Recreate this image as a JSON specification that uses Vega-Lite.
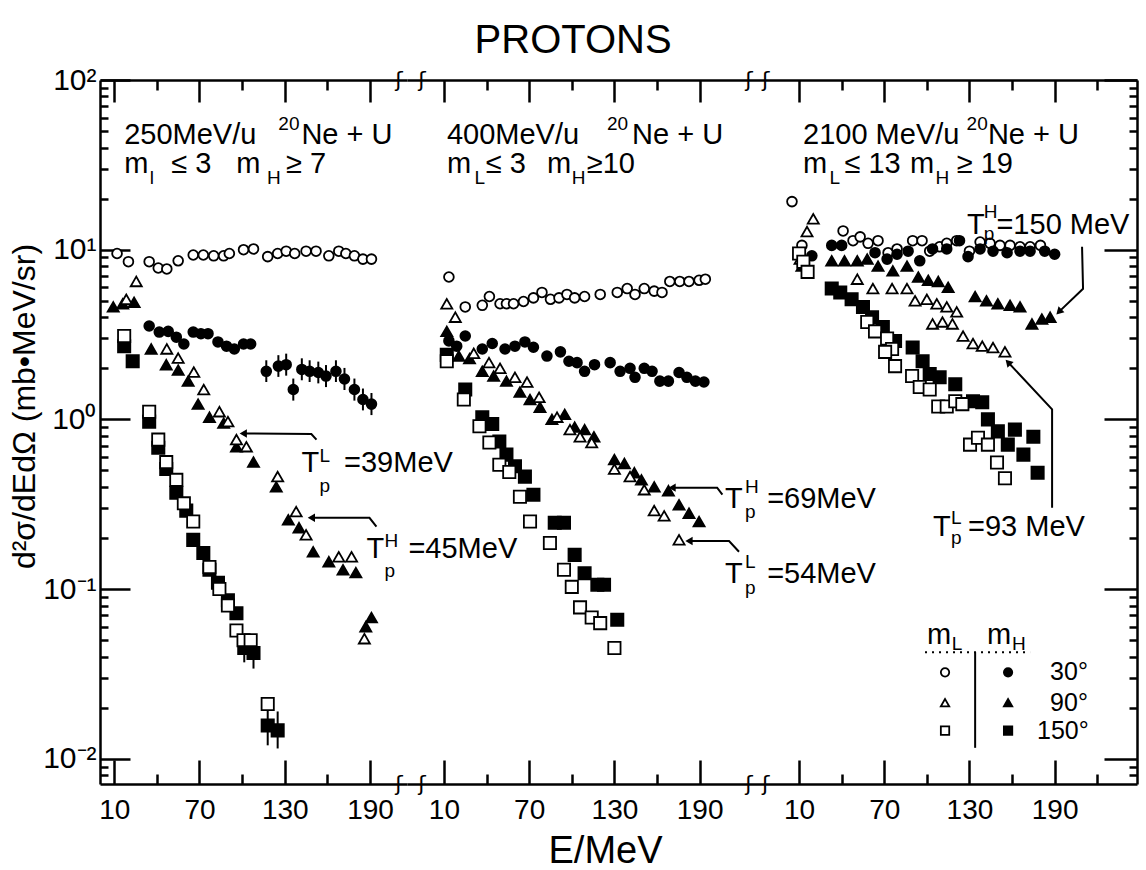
{
  "$schema": "https://vega.github.io/schema/vega-lite/v6.json",
  "padding": {"left": 8, "top": 21, "right": 4, "bottom": 2},
  "bounds": "flush",
  "spacing": 0,
  "title": {"text": "PROTONS", "fontSize": 40, "fontWeight": "normal", "font": "Liberation Sans", "color": "black", "offset": 4, "anchor": "middle"},
  "config": {
    "view": {"stroke": null},
    "axis": {"domainColor": "black", "tickColor": "black", "labelColor": "black", "titleColor": "black", "labelFont": "Liberation Sans", "titleFont": "Liberation Sans", "titleFontWeight": "normal", "grid": false, "labelFlush": false, "labelOverlap": false, "domainWidth": 2.5, "tickWidth": 2.5}
  },
  "datasets": {
    "pts": [
      {"p":1,"m":"mL","a":"30°","E":12,"v":9.5},{"p":1,"m":"mL","a":"30°","E":20,"v":8.5},{"p":1,"m":"mL","a":"30°","E":34.6,"v":8.5},{"p":1,"m":"mL","a":"30°","E":41,"v":7.8},{"p":1,"m":"mL","a":"30°","E":47,"v":7.7},{"p":1,"m":"mL","a":"30°","E":55,"v":8.6},{"p":1,"m":"mL","a":"30°","E":65.6,"v":9.3},{"p":1,"m":"mL","a":"30°","E":72.7,"v":9.3},{"p":1,"m":"mL","a":"30°","E":80,"v":9.2},{"p":1,"m":"mL","a":"30°","E":87,"v":9.2},{"p":1,"m":"mL","a":"30°","E":91,"v":9.5},{"p":1,"m":"mL","a":"30°","E":101,"v":10.0},{"p":1,"m":"mL","a":"30°","E":108,"v":10.1},{"p":1,"m":"mL","a":"30°","E":118,"v":9.1},{"p":1,"m":"mL","a":"30°","E":125,"v":9.5},{"p":1,"m":"mL","a":"30°","E":131,"v":9.8},{"p":1,"m":"mL","a":"30°","E":137,"v":9.5},{"p":1,"m":"mL","a":"30°","E":145,"v":9.8},{"p":1,"m":"mL","a":"30°","E":152,"v":9.8},{"p":1,"m":"mL","a":"30°","E":161,"v":9.2},{"p":1,"m":"mL","a":"30°","E":168,"v":9.8},{"p":1,"m":"mL","a":"30°","E":173,"v":9.5},{"p":1,"m":"mL","a":"30°","E":179,"v":9.2},{"p":1,"m":"mL","a":"30°","E":185,"v":8.8},{"p":1,"m":"mL","a":"30°","E":191,"v":8.8},
      {"p":1,"m":"mH","a":"30°","E":34.6,"v":3.55},{"p":1,"m":"mH","a":"30°","E":41.7,"v":3.27},{"p":1,"m":"mH","a":"30°","E":48,"v":3.3},{"p":1,"m":"mH","a":"30°","E":53.7,"v":3.05},{"p":1,"m":"mH","a":"30°","E":59,"v":2.78},{"p":1,"m":"mH","a":"30°","E":65.6,"v":3.27},{"p":1,"m":"mH","a":"30°","E":71,"v":3.2},{"p":1,"m":"mH","a":"30°","E":76,"v":3.2},{"p":1,"m":"mH","a":"30°","E":83,"v":2.86},{"p":1,"m":"mH","a":"30°","E":89,"v":2.7},{"p":1,"m":"mH","a":"30°","E":94.5,"v":2.6},{"p":1,"m":"mH","a":"30°","E":101,"v":2.78},{"p":1,"m":"mH","a":"30°","E":106,"v":2.78},{"p":1,"m":"mH","a":"30°","E":117,"v":1.92},{"p":1,"m":"mH","a":"30°","E":125.5,"v":2.06},{"p":1,"m":"mH","a":"30°","E":131,"v":2.1},{"p":1,"m":"mH","a":"30°","E":136,"v":1.5},{"p":1,"m":"mH","a":"30°","E":142,"v":1.97},{"p":1,"m":"mH","a":"30°","E":147.5,"v":1.92},{"p":1,"m":"mH","a":"30°","E":153.6,"v":1.89},{"p":1,"m":"mH","a":"30°","E":159,"v":1.8},{"p":1,"m":"mH","a":"30°","E":166,"v":1.92},{"p":1,"m":"mH","a":"30°","E":172,"v":1.73},{"p":1,"m":"mH","a":"30°","E":179,"v":1.5},{"p":1,"m":"mH","a":"30°","E":185,"v":1.31},{"p":1,"m":"mH","a":"30°","E":191,"v":1.23},
      {"p":1,"m":"mH","a":"90°","E":9.3,"v":4.6},{"p":1,"m":"mH","a":"90°","E":16,"v":4.8},{"p":1,"m":"mH","a":"90°","E":24,"v":4.9},{"p":1,"m":"mH","a":"90°","E":36,"v":2.6},{"p":1,"m":"mH","a":"90°","E":46.6,"v":2.1},{"p":1,"m":"mH","a":"90°","E":55,"v":1.95},{"p":1,"m":"mH","a":"90°","E":62,"v":1.68},{"p":1,"m":"mH","a":"90°","E":69,"v":1.23},{"p":1,"m":"mH","a":"90°","E":77,"v":1.03},{"p":1,"m":"mH","a":"90°","E":87,"v":0.95},{"p":1,"m":"mH","a":"90°","E":96,"v":0.69},{"p":1,"m":"mH","a":"90°","E":108,"v":0.56},{"p":1,"m":"mH","a":"90°","E":124,"v":0.4},{"p":1,"m":"mH","a":"90°","E":132.5,"v":0.256},{"p":1,"m":"mH","a":"90°","E":140,"v":0.23},{"p":1,"m":"mH","a":"90°","E":150,"v":0.166},{"p":1,"m":"mH","a":"90°","E":161,"v":0.145},{"p":1,"m":"mH","a":"90°","E":171,"v":0.13},{"p":1,"m":"mH","a":"90°","E":180,"v":0.125},{"p":1,"m":"mH","a":"90°","E":187,"v":0.06},{"p":1,"m":"mH","a":"90°","E":191,"v":0.068},
      {"p":1,"m":"mL","a":"90°","E":18.5,"v":5.1},{"p":1,"m":"mL","a":"90°","E":25.5,"v":6.5},{"p":1,"m":"mL","a":"90°","E":47,"v":2.6},{"p":1,"m":"mL","a":"90°","E":55,"v":2.3},{"p":1,"m":"mL","a":"90°","E":66,"v":1.9},{"p":1,"m":"mL","a":"90°","E":73,"v":1.5},{"p":1,"m":"mL","a":"90°","E":84,"v":1.11},{"p":1,"m":"mL","a":"90°","E":90,"v":0.97},{"p":1,"m":"mL","a":"90°","E":96,"v":0.76},{"p":1,"m":"mL","a":"90°","E":103,"v":0.69},{"p":1,"m":"mL","a":"90°","E":125,"v":0.46},{"p":1,"m":"mL","a":"90°","E":138,"v":0.286},{"p":1,"m":"mL","a":"90°","E":145,"v":0.209},{"p":1,"m":"mL","a":"90°","E":168,"v":0.155},{"p":1,"m":"mL","a":"90°","E":177,"v":0.155},{"p":1,"m":"mL","a":"90°","E":186,"v":0.051},
      {"p":1,"m":"mH","a":"150°","E":17,"v":2.7},{"p":1,"m":"mH","a":"150°","E":23,"v":2.2},{"p":1,"m":"mH","a":"150°","E":34.6,"v":0.97},{"p":1,"m":"mH","a":"150°","E":41,"v":0.68},{"p":1,"m":"mH","a":"150°","E":46.6,"v":0.51},{"p":1,"m":"mH","a":"150°","E":53.7,"v":0.37},{"p":1,"m":"mH","a":"150°","E":60.7,"v":0.29},{"p":1,"m":"mH","a":"150°","E":65.6,"v":0.195},{"p":1,"m":"mH","a":"150°","E":72.7,"v":0.163},{"p":1,"m":"mH","a":"150°","E":77,"v":0.13},{"p":1,"m":"mH","a":"150°","E":83,"v":0.109},{"p":1,"m":"mH","a":"150°","E":90,"v":0.086},{"p":1,"m":"mH","a":"150°","E":96,"v":0.072},{"p":1,"m":"mH","a":"150°","E":101.5,"v":0.045},{"p":1,"m":"mH","a":"150°","E":108,"v":0.042},{"p":1,"m":"mH","a":"150°","E":118,"v":0.0157},{"p":1,"m":"mH","a":"150°","E":125,"v":0.0147},
      {"p":1,"m":"mL","a":"150°","E":17,"v":3.1},{"p":1,"m":"mL","a":"150°","E":34.6,"v":1.11},{"p":1,"m":"mL","a":"150°","E":41,"v":0.76},{"p":1,"m":"mL","a":"150°","E":46.6,"v":0.56},{"p":1,"m":"mL","a":"150°","E":53.7,"v":0.44},{"p":1,"m":"mL","a":"150°","E":59,"v":0.32},{"p":1,"m":"mL","a":"150°","E":65.6,"v":0.25},{"p":1,"m":"mL","a":"150°","E":77,"v":0.135},{"p":1,"m":"mL","a":"150°","E":84,"v":0.1},{"p":1,"m":"mL","a":"150°","E":90,"v":0.08},{"p":1,"m":"mL","a":"150°","E":96,"v":0.057},{"p":1,"m":"mL","a":"150°","E":101,"v":0.05},{"p":1,"m":"mL","a":"150°","E":106,"v":0.05},{"p":1,"m":"mL","a":"150°","E":118,"v":0.021},
      {"p":2,"m":"mL","a":"30°","E":13.5,"v":6.9},{"p":2,"m":"mL","a":"30°","E":25,"v":4.6},{"p":2,"m":"mL","a":"30°","E":37,"v":4.7},{"p":2,"m":"mL","a":"30°","E":42,"v":5.3},{"p":2,"m":"mL","a":"30°","E":49.5,"v":4.8},{"p":2,"m":"mL","a":"30°","E":54,"v":4.8},{"p":2,"m":"mL","a":"30°","E":59,"v":4.8},{"p":2,"m":"mL","a":"30°","E":66,"v":4.95},{"p":2,"m":"mL","a":"30°","E":73,"v":5.2},{"p":2,"m":"mL","a":"30°","E":79,"v":5.6},{"p":2,"m":"mL","a":"30°","E":85,"v":5.1},{"p":2,"m":"mL","a":"30°","E":91,"v":5.2},{"p":2,"m":"mL","a":"30°","E":96.6,"v":5.45},{"p":2,"m":"mL","a":"30°","E":102,"v":5.2},{"p":2,"m":"mL","a":"30°","E":109,"v":5.3},{"p":2,"m":"mL","a":"30°","E":120,"v":5.45},{"p":2,"m":"mL","a":"30°","E":132,"v":5.6},{"p":2,"m":"mL","a":"30°","E":139,"v":5.9},{"p":2,"m":"mL","a":"30°","E":144.5,"v":5.45},{"p":2,"m":"mL","a":"30°","E":151,"v":5.9},{"p":2,"m":"mL","a":"30°","E":158,"v":5.7},{"p":2,"m":"mL","a":"30°","E":163.5,"v":5.6},{"p":2,"m":"mL","a":"30°","E":169,"v":6.5},{"p":2,"m":"mL","a":"30°","E":176,"v":6.5},{"p":2,"m":"mL","a":"30°","E":182.5,"v":6.5},{"p":2,"m":"mL","a":"30°","E":189.6,"v":6.6},{"p":2,"m":"mL","a":"30°","E":194,"v":6.7},
      {"p":2,"m":"mH","a":"30°","E":13.5,"v":2.9},{"p":2,"m":"mH","a":"30°","E":19,"v":2.7},{"p":2,"m":"mH","a":"30°","E":25,"v":3.1},{"p":2,"m":"mH","a":"30°","E":37,"v":2.6},{"p":2,"m":"mH","a":"30°","E":44,"v":2.8},{"p":2,"m":"mH","a":"30°","E":53,"v":2.6},{"p":2,"m":"mH","a":"30°","E":60,"v":2.7},{"p":2,"m":"mH","a":"30°","E":67,"v":2.86},{"p":2,"m":"mH","a":"30°","E":73,"v":2.66},{"p":2,"m":"mH","a":"30°","E":82.5,"v":2.36},{"p":2,"m":"mH","a":"30°","E":92,"v":2.5},{"p":2,"m":"mH","a":"30°","E":98,"v":2.2},{"p":2,"m":"mH","a":"30°","E":103.7,"v":2.16},{"p":2,"m":"mH","a":"30°","E":109,"v":1.92},{"p":2,"m":"mH","a":"30°","E":116,"v":2.1},{"p":2,"m":"mH","a":"30°","E":127,"v":2.16},{"p":2,"m":"mH","a":"30°","E":134,"v":1.92},{"p":2,"m":"mH","a":"30°","E":141,"v":2.0},{"p":2,"m":"mH","a":"30°","E":144.5,"v":1.77},{"p":2,"m":"mH","a":"30°","E":151,"v":2.0},{"p":2,"m":"mH","a":"30°","E":156.5,"v":1.92},{"p":2,"m":"mH","a":"30°","E":162,"v":1.68},{"p":2,"m":"mH","a":"30°","E":168,"v":1.68},{"p":2,"m":"mH","a":"30°","E":175.5,"v":1.89},{"p":2,"m":"mH","a":"30°","E":181,"v":1.77},{"p":2,"m":"mH","a":"30°","E":187,"v":1.68},{"p":2,"m":"mH","a":"30°","E":193,"v":1.66},
      {"p":2,"m":"mH","a":"90°","E":12,"v":3.3},{"p":2,"m":"mH","a":"90°","E":20.5,"v":2.36},{"p":2,"m":"mH","a":"90°","E":28,"v":2.28},{"p":2,"m":"mH","a":"90°","E":37,"v":1.92},{"p":2,"m":"mH","a":"90°","E":45,"v":1.8},{"p":2,"m":"mH","a":"90°","E":54,"v":1.68},{"p":2,"m":"mH","a":"90°","E":63.5,"v":1.45},{"p":2,"m":"mH","a":"90°","E":70.6,"v":1.31},{"p":2,"m":"mH","a":"90°","E":77.6,"v":1.18},{"p":2,"m":"mH","a":"90°","E":86,"v":1.0},{"p":2,"m":"mH","a":"90°","E":95,"v":1.07},{"p":2,"m":"mH","a":"90°","E":102,"v":0.9},{"p":2,"m":"mH","a":"90°","E":109,"v":0.87},{"p":2,"m":"mH","a":"90°","E":115.6,"v":0.79},{"p":2,"m":"mH","a":"90°","E":130,"v":0.58},{"p":2,"m":"mH","a":"90°","E":137,"v":0.55},{"p":2,"m":"mH","a":"90°","E":144,"v":0.485},{"p":2,"m":"mH","a":"90°","E":149,"v":0.44},{"p":2,"m":"mH","a":"90°","E":158,"v":0.4},{"p":2,"m":"mH","a":"90°","E":168,"v":0.38},{"p":2,"m":"mH","a":"90°","E":175.5,"v":0.314},{"p":2,"m":"mH","a":"90°","E":182.5,"v":0.28},{"p":2,"m":"mH","a":"90°","E":189.6,"v":0.25},
      {"p":2,"m":"mL","a":"90°","E":12,"v":4.8},{"p":2,"m":"mL","a":"90°","E":18,"v":4.0},{"p":2,"m":"mL","a":"90°","E":31,"v":2.45},{"p":2,"m":"mL","a":"90°","E":41.7,"v":2.16},{"p":2,"m":"mL","a":"90°","E":49.5,"v":2.0},{"p":2,"m":"mL","a":"90°","E":60,"v":1.77},{"p":2,"m":"mL","a":"90°","E":68.5,"v":1.66},{"p":2,"m":"mL","a":"90°","E":77,"v":1.35},{"p":2,"m":"mL","a":"90°","E":89.6,"v":1.03},{"p":2,"m":"mL","a":"90°","E":98.7,"v":0.87},{"p":2,"m":"mL","a":"90°","E":105.8,"v":0.79},{"p":2,"m":"mL","a":"90°","E":114,"v":0.73},{"p":2,"m":"mL","a":"90°","E":130,"v":0.51},{"p":2,"m":"mL","a":"90°","E":141,"v":0.46},{"p":2,"m":"mL","a":"90°","E":151,"v":0.385},{"p":2,"m":"mL","a":"90°","E":158,"v":0.29},{"p":2,"m":"mL","a":"90°","E":165,"v":0.27},{"p":2,"m":"mL","a":"90°","E":175.5,"v":0.195},
      {"p":2,"m":"mH","a":"150°","E":12,"v":2.4},{"p":2,"m":"mH","a":"150°","E":25,"v":1.5},{"p":2,"m":"mH","a":"150°","E":37,"v":1.03},{"p":2,"m":"mH","a":"150°","E":44,"v":0.94},{"p":2,"m":"mH","a":"150°","E":49,"v":0.74},{"p":2,"m":"mH","a":"150°","E":54,"v":0.62},{"p":2,"m":"mH","a":"150°","E":60,"v":0.53},{"p":2,"m":"mH","a":"150°","E":67,"v":0.46},{"p":2,"m":"mH","a":"150°","E":73,"v":0.36},{"p":2,"m":"mH","a":"150°","E":88,"v":0.246},{"p":2,"m":"mH","a":"150°","E":94.5,"v":0.246},{"p":2,"m":"mH","a":"150°","E":102,"v":0.159},{"p":2,"m":"mH","a":"150°","E":109,"v":0.124},{"p":2,"m":"mH","a":"150°","E":118,"v":0.106},{"p":2,"m":"mH","a":"150°","E":122.7,"v":0.106},{"p":2,"m":"mH","a":"150°","E":132,"v":0.066},
      {"p":2,"m":"mL","a":"150°","E":12,"v":2.2},{"p":2,"m":"mL","a":"150°","E":24,"v":1.31},{"p":2,"m":"mL","a":"150°","E":35,"v":0.91},{"p":2,"m":"mL","a":"150°","E":42,"v":0.73},{"p":2,"m":"mL","a":"150°","E":49,"v":0.54},{"p":2,"m":"mL","a":"150°","E":56,"v":0.49},{"p":2,"m":"mL","a":"150°","E":63.5,"v":0.35},{"p":2,"m":"mL","a":"150°","E":70.6,"v":0.25},{"p":2,"m":"mL","a":"150°","E":84.6,"v":0.187},{"p":2,"m":"mL","a":"150°","E":94.5,"v":0.13},{"p":2,"m":"mL","a":"150°","E":100,"v":0.103},{"p":2,"m":"mL","a":"150°","E":105.8,"v":0.078},{"p":2,"m":"mL","a":"150°","E":114,"v":0.068},{"p":2,"m":"mL","a":"150°","E":120,"v":0.063},{"p":2,"m":"mL","a":"150°","E":130,"v":0.045},
      {"p":3,"m":"mL","a":"30°","E":5,"v":19.2},{"p":3,"m":"mL","a":"30°","E":12,"v":10.6},{"p":3,"m":"mL","a":"30°","E":41,"v":12.9},{"p":3,"m":"mL","a":"30°","E":48,"v":11.3},{"p":3,"m":"mL","a":"30°","E":53,"v":11.9},{"p":3,"m":"mL","a":"30°","E":58.6,"v":10.9},{"p":3,"m":"mL","a":"30°","E":65.6,"v":11.3},{"p":3,"m":"mL","a":"30°","E":72.7,"v":9.6},{"p":3,"m":"mL","a":"30°","E":79,"v":10.1},{"p":3,"m":"mL","a":"30°","E":90,"v":11.3},{"p":3,"m":"mL","a":"30°","E":96.6,"v":11.3},{"p":3,"m":"mL","a":"30°","E":102,"v":9.8},{"p":3,"m":"mL","a":"30°","E":109,"v":10.4},{"p":3,"m":"mL","a":"30°","E":114,"v":10.9},{"p":3,"m":"mL","a":"30°","E":121,"v":11.3},{"p":3,"m":"mL","a":"30°","E":130,"v":9.8},{"p":3,"m":"mL","a":"30°","E":137.5,"v":11.1},{"p":3,"m":"mL","a":"30°","E":144.5,"v":10.9},{"p":3,"m":"mL","a":"30°","E":151.5,"v":10.6},{"p":3,"m":"mL","a":"30°","E":158.6,"v":10.6},{"p":3,"m":"mL","a":"30°","E":165.6,"v":10.4},{"p":3,"m":"mL","a":"30°","E":172.7,"v":10.4},{"p":3,"m":"mL","a":"30°","E":180,"v":10.6},
      {"p":3,"m":"mH","a":"30°","E":19,"v":9.2},{"p":3,"m":"mH","a":"30°","E":33,"v":10.6},{"p":3,"m":"mH","a":"30°","E":40,"v":10.6},{"p":3,"m":"mH","a":"30°","E":63.5,"v":9.6},{"p":3,"m":"mH","a":"30°","E":72,"v":8.8},{"p":3,"m":"mH","a":"30°","E":79,"v":9.4},{"p":3,"m":"mH","a":"30°","E":86.8,"v":9.8},{"p":3,"m":"mH","a":"30°","E":95,"v":8.6},{"p":3,"m":"mH","a":"30°","E":104,"v":10.1},{"p":3,"m":"mH","a":"30°","E":114,"v":10.1},{"p":3,"m":"mH","a":"30°","E":123,"v":11.3},{"p":3,"m":"mH","a":"30°","E":129,"v":9.1},{"p":3,"m":"mH","a":"30°","E":137.5,"v":10.1},{"p":3,"m":"mH","a":"30°","E":146.6,"v":9.8},{"p":3,"m":"mH","a":"30°","E":156.5,"v":9.6},{"p":3,"m":"mH","a":"30°","E":165.6,"v":9.8},{"p":3,"m":"mH","a":"30°","E":172.7,"v":9.8},{"p":3,"m":"mH","a":"30°","E":183,"v":9.8},{"p":3,"m":"mH","a":"30°","E":190,"v":9.4},
      {"p":3,"m":"mH","a":"90°","E":12,"v":8.0},{"p":3,"m":"mH","a":"90°","E":33,"v":8.6},{"p":3,"m":"mH","a":"90°","E":42,"v":8.6},{"p":3,"m":"mH","a":"90°","E":51,"v":8.6},{"p":3,"m":"mH","a":"90°","E":58,"v":8.8},{"p":3,"m":"mH","a":"90°","E":65.6,"v":8.0},{"p":3,"m":"mH","a":"90°","E":76,"v":7.5},{"p":3,"m":"mH","a":"90°","E":86,"v":8.0},{"p":3,"m":"mH","a":"90°","E":94,"v":6.9},{"p":3,"m":"mH","a":"90°","E":101,"v":6.6},{"p":3,"m":"mH","a":"90°","E":108,"v":6.5},{"p":3,"m":"mH","a":"90°","E":115,"v":6.0},{"p":3,"m":"mH","a":"90°","E":134,"v":5.3},{"p":3,"m":"mH","a":"90°","E":142,"v":5.0},{"p":3,"m":"mH","a":"90°","E":150,"v":4.8},{"p":3,"m":"mH","a":"90°","E":158.6,"v":4.7},{"p":3,"m":"mH","a":"90°","E":165.6,"v":4.6},{"p":3,"m":"mH","a":"90°","E":174,"v":3.65},{"p":3,"m":"mH","a":"90°","E":181,"v":3.9},{"p":3,"m":"mH","a":"90°","E":186.8,"v":4.0},
      {"p":3,"m":"mL","a":"90°","E":10.7,"v":8.8},{"p":3,"m":"mL","a":"90°","E":15.6,"v":12.8},{"p":3,"m":"mL","a":"90°","E":20,"v":15.2},{"p":3,"m":"mL","a":"90°","E":51,"v":6.7},{"p":3,"m":"mL","a":"90°","E":62,"v":5.9},{"p":3,"m":"mL","a":"90°","E":75.5,"v":5.9},{"p":3,"m":"mL","a":"90°","E":86,"v":5.9},{"p":3,"m":"mL","a":"90°","E":91.7,"v":5.0},{"p":3,"m":"mL","a":"90°","E":100,"v":5.1},{"p":3,"m":"mL","a":"90°","E":107,"v":4.8},{"p":3,"m":"mL","a":"90°","E":114,"v":4.6},{"p":3,"m":"mL","a":"90°","E":121,"v":4.3},{"p":3,"m":"mL","a":"90°","E":104,"v":3.65},{"p":3,"m":"mL","a":"90°","E":111,"v":3.75},{"p":3,"m":"mL","a":"90°","E":118,"v":3.65},{"p":3,"m":"mL","a":"90°","E":125.5,"v":3.1},{"p":3,"m":"mL","a":"90°","E":132.5,"v":2.8},{"p":3,"m":"mL","a":"90°","E":139,"v":2.7},{"p":3,"m":"mL","a":"90°","E":146.6,"v":2.65},{"p":3,"m":"mL","a":"90°","E":155,"v":2.5},
      {"p":3,"m":"mH","a":"150°","E":33,"v":5.9},{"p":3,"m":"mH","a":"150°","E":39,"v":5.6},{"p":3,"m":"mH","a":"150°","E":47,"v":5.1},{"p":3,"m":"mH","a":"150°","E":55,"v":4.6},{"p":3,"m":"mH","a":"150°","E":61.4,"v":4.0},{"p":3,"m":"mH","a":"150°","E":69,"v":3.5},{"p":3,"m":"mH","a":"150°","E":77.6,"v":2.9},{"p":3,"m":"mH","a":"150°","E":90,"v":2.65},{"p":3,"m":"mH","a":"150°","E":97,"v":2.2},{"p":3,"m":"mH","a":"150°","E":102,"v":1.85},{"p":3,"m":"mH","a":"150°","E":109,"v":1.77},{"p":3,"m":"mH","a":"150°","E":120,"v":1.61},{"p":3,"m":"mH","a":"150°","E":132.5,"v":1.28},{"p":3,"m":"mH","a":"150°","E":139,"v":1.26},{"p":3,"m":"mH","a":"150°","E":143,"v":1.0},{"p":3,"m":"mH","a":"150°","E":150,"v":0.85},{"p":3,"m":"mH","a":"150°","E":157,"v":0.71},{"p":3,"m":"mH","a":"150°","E":162,"v":0.87},{"p":3,"m":"mH","a":"150°","E":168,"v":0.62},{"p":3,"m":"mH","a":"150°","E":175,"v":0.79},{"p":3,"m":"mH","a":"150°","E":178,"v":0.485},
      {"p":3,"m":"mL","a":"150°","E":10,"v":9.5},{"p":3,"m":"mL","a":"150°","E":13,"v":8.5},{"p":3,"m":"mL","a":"150°","E":16,"v":7.4},{"p":3,"m":"mL","a":"150°","E":58,"v":3.75},{"p":3,"m":"mL","a":"150°","E":63.5,"v":3.3},{"p":3,"m":"mL","a":"150°","E":72,"v":3.0},{"p":3,"m":"mL","a":"150°","E":75.5,"v":2.6},{"p":3,"m":"mL","a":"150°","E":70.6,"v":2.5},{"p":3,"m":"mL","a":"150°","E":77.6,"v":2.06},{"p":3,"m":"mL","a":"150°","E":89.6,"v":1.8},{"p":3,"m":"mL","a":"150°","E":95,"v":1.55},{"p":3,"m":"mL","a":"150°","E":102,"v":1.5},{"p":3,"m":"mL","a":"150°","E":108,"v":1.19},{"p":3,"m":"mL","a":"150°","E":114,"v":1.19},{"p":3,"m":"mL","a":"150°","E":120,"v":1.28},{"p":3,"m":"mL","a":"150°","E":125,"v":1.23},{"p":3,"m":"mL","a":"150°","E":130.4,"v":0.71},{"p":3,"m":"mL","a":"150°","E":136,"v":0.78},{"p":3,"m":"mL","a":"150°","E":143,"v":0.71},{"p":3,"m":"mL","a":"150°","E":149.4,"v":0.557},{"p":3,"m":"mL","a":"150°","E":155,"v":0.45}
    ],
    "leg": [
      {"p":3,"m":"mL","a":"30°","E":112.8,"v":0.0323},{"p":3,"m":"mH","a":"30°","E":157.2,"v":0.0323},
      {"p":3,"m":"mL","a":"90°","E":112.8,"v":0.0214},{"p":3,"m":"mH","a":"90°","E":157.2,"v":0.0214},
      {"p":3,"m":"mL","a":"150°","E":112.8,"v":0.01465},{"p":3,"m":"mH","a":"150°","E":157.2,"v":0.01465}
    ],
    "err": [
      {"E":117,"lo":1.66,"hi":2.23},{"E":125.5,"lo":1.78,"hi":2.39},{"E":131,"lo":1.81,"hi":2.44},{"E":136,"lo":1.29,"hi":1.74},{"E":142,"lo":1.7,"hi":2.29},{"E":147.5,"lo":1.66,"hi":2.23},{"E":153.6,"lo":1.63,"hi":2.19},{"E":159,"lo":1.55,"hi":2.09},{"E":166,"lo":1.66,"hi":2.23},{"E":172,"lo":1.49,"hi":2.01},{"E":179,"lo":1.29,"hi":1.74},{"E":185,"lo":1.13,"hi":1.52},{"E":191,"lo":1.06,"hi":1.43},
      {"E":118,"lo":0.012,"hi":0.02},{"E":125,"lo":0.0115,"hi":0.019},{"E":101.5,"lo":0.037,"hi":0.053},{"E":108,"lo":0.034,"hi":0.051}
    ],
    "txt": [
      {"p":1,"k":"big","t":"250MeV/u","E":17,"v":47.3},{"p":1,"k":"sup","t":"20","E":125.5,"v":55},{"p":1,"k":"big","t":"Ne + U","E":141.7,"v":47.3},
      {"p":1,"k":"big","t":"m","E":17,"v":31.8},{"p":1,"k":"sub","t":"l","E":35,"v":26.3},{"p":1,"k":"big","t":"≤ 3","E":50.1,"v":31.8},{"p":1,"k":"big","t":"m","E":95.9,"v":31.8},{"p":1,"k":"sub","t":"H","E":117.5,"v":26.3},{"p":1,"k":"big","t":"≥ 7","E":130.8,"v":31.8},
      {"p":1,"k":"big","t":"T","E":141.7,"v":0.55},{"p":1,"k":"sup","t":"L","E":154.4,"v":0.612},{"p":1,"k":"sub","t":"p","E":154.4,"v":0.406},{"p":1,"k":"big","t":"=39MeV","E":171.7,"v":0.55},
      {"p":1,"k":"big","t":"T","E":187.5,"v":0.1725},{"p":1,"k":"sup","t":"H","E":200.1,"v":0.192},{"p":1,"k":"sub","t":"p","E":200.1,"v":0.128},{"p":1,"k":"big","t":"=45MeV","E":217,"v":0.1725},
      {"p":2,"k":"big","t":"400MeV/u","E":12.1,"v":47.3},{"p":2,"k":"sup","t":"20","E":124.8,"v":55},{"p":2,"k":"big","t":"Ne + U","E":142.4,"v":47.3},
      {"p":2,"k":"big","t":"m","E":12.1,"v":31.8},{"p":2,"k":"sub","t":"L","E":31.5,"v":26.3},{"p":2,"k":"big","t":"≤ 3","E":39.5,"v":31.8},{"p":2,"k":"big","t":"m","E":82.5,"v":31.8},{"p":2,"k":"sub","t":"H","E":100,"v":26.3},{"p":2,"k":"big","t":"≥10","E":110.5,"v":31.8},
      {"p":2,"k":"big","t":"T","E":207.9,"v":0.341},{"p":2,"k":"sup","t":"H","E":222,"v":0.402},{"p":2,"k":"sub","t":"p","E":222,"v":0.286},{"p":2,"k":"big","t":"=69MeV","E":237.5,"v":0.341},
      {"p":2,"k":"big","t":"T","E":207.9,"v":0.123},{"p":2,"k":"sup","t":"L","E":222,"v":0.1445},{"p":2,"k":"sub","t":"p","E":222,"v":0.1014},{"p":2,"k":"big","t":"=54MeV","E":237.5,"v":0.123},
      {"p":3,"k":"big","t":"2100 MeV/u","E":12.8,"v":47.3},{"p":3,"k":"sup","t":"20","E":128,"v":55},{"p":3,"k":"big","t":"Ne + U","E":143,"v":47.3},
      {"p":3,"k":"big","t":"m","E":12.8,"v":31.8},{"p":3,"k":"sub","t":"L","E":31.5,"v":26.3},{"p":3,"k":"big","t":"≤ 13","E":42,"v":31.8},{"p":3,"k":"big","t":"m","E":88.2,"v":31.8},{"p":3,"k":"sub","t":"H","E":106,"v":26.3},{"p":3,"k":"big","t":"≥ 19","E":121,"v":31.8},
      {"p":3,"k":"big","t":"T","E":128.3,"v":13.9},{"p":3,"k":"sup","t":"H","E":140,"v":16.6},{"p":3,"k":"sub","t":"p","E":140,"v":12.3},{"p":3,"k":"big","t":"=150 MeV","E":149,"v":13.9},
      {"p":3,"k":"big","t":"T","E":104.4,"v":0.233},{"p":3,"k":"sup","t":"L","E":117,"v":0.263},{"p":3,"k":"sub","t":"p","E":117,"v":0.2},{"p":3,"k":"big","t":"=93 MeV","E":129,"v":0.233},
      {"p":3,"k":"big","t":"m","E":100.1,"v":0.0535},{"p":3,"k":"sub","t":"L","E":117.5,"v":0.0473},{"p":3,"k":"big","t":"m","E":142.4,"v":0.0535},{"p":3,"k":"sub","t":"H","E":160,"v":0.0473},
      {"p":3,"k":"leg","t":"30°","E":186.8,"v":0.0323},{"p":3,"k":"leg","t":"90°","E":186.8,"v":0.0214},{"p":3,"k":"leg","t":"150°","E":177.6,"v":0.01465},
      {"p":1,"k":"brk","t":"ʃ","E":210.4,"v":100},{"p":1,"k":"brk","t":"ʃ","E":210.4,"v":0.0071},
      {"p":2,"k":"brk","t":"ʃ","E":-5.4,"v":100},{"p":2,"k":"brk","t":"ʃ","E":-5.4,"v":0.0071},{"p":2,"k":"brk","t":"ʃ","E":224.7,"v":100},{"p":2,"k":"brk","t":"ʃ","E":224.7,"v":0.0071},
      {"p":3,"k":"brk","t":"ʃ","E":-13.5,"v":100},{"p":3,"k":"brk","t":"ʃ","E":-13.5,"v":0.0071}
    ],
    "lines": [
      {"p":1,"id":"a1","o":1,"E":100.8,"v":0.826},{"p":1,"id":"a1","o":2,"E":148.7,"v":0.82},{"p":1,"id":"a1","o":3,"E":152.3,"v":0.76},
      {"p":1,"id":"a2","o":1,"E":148.7,"v":0.263},{"p":1,"id":"a2","o":2,"E":189.6,"v":0.263},{"p":1,"id":"a2","o":3,"E":194.5,"v":0.233},
      {"p":2,"id":"a3","o":1,"E":170.6,"v":0.396},{"p":2,"id":"a3","o":2,"E":202.3,"v":0.396},{"p":2,"id":"a3","o":3,"E":206,"v":0.36},
      {"p":2,"id":"a4","o":1,"E":182.5,"v":0.192},{"p":2,"id":"a4","o":2,"E":210.7,"v":0.192},{"p":2,"id":"a4","o":3,"E":217.7,"v":0.166},
      {"p":3,"id":"a5","o":1,"E":209.3,"v":10.4},{"p":3,"id":"a5","o":2,"E":210,"v":5.88},{"p":3,"id":"a5","o":3,"E":193,"v":4.3},
      {"p":3,"id":"a6","o":1,"E":188.2,"v":0.301},{"p":3,"id":"a6","o":2,"E":188.2,"v":1.146},{"p":3,"id":"a6","o":3,"E":157.2,"v":2.17},
      {"p":3,"id":"lv","o":1,"E":134,"v":0.0424},{"p":3,"id":"lv","o":2,"E":134,"v":0.0116}
    ],
    "dots": [
      {"p":3,"id":"lh","o":1,"E":98.7,"v":0.0424},{"p":3,"id":"lh","o":2,"E":172.7,"v":0.0424}
    ],
    "heads": [
      {"p":1,"g":"L","E":100.8,"v":0.826},{"p":1,"g":"L","E":148.7,"v":0.263},{"p":2,"g":"L","E":170.6,"v":0.396},{"p":2,"g":"L","E":182.5,"v":0.192},{"p":3,"g":"DL","E":193,"v":4.3},{"p":3,"g":"UL","E":157.2,"v":2.17}
    ]
  },
  "hconcat": [
    {
      "width": 307, "height": 704,
      "resolve": {"axis": {"x": "independent", "y": "independent"}},
      "layer": [
        {
          "data": {"name": "err"},
          "mark": {"type": "rule", "color": "black", "strokeWidth": 2},
          "encoding": {
            "x": {"field": "E", "type": "quantitative", "scale": {"domain": [0, 216], "nice": false, "zero": false}, "axis": null},
            "y": {"field": "lo", "type": "quantitative", "scale": {"type": "log", "domain": [0.0071, 100], "nice": false}, "axis": null},
            "y2": {"field": "hi"}
          }
        },
        {
          "data": {"name": "pts"},
          "transform": [{"filter": "datum.p == 1"}],
          "mark": {"type": "point", "filled": true, "stroke": "black", "strokeWidth": 1.8, "opacity": 1},
          "encoding": {
            "x": {"field": "E", "type": "quantitative", "scale": {"domain": [0, 216], "nice": false, "zero": false},
              "axis": {"orient": "bottom", "values": [10, 40, 70, 100, 130, 160, 190], "labelExpr": "(datum.value - 10) % 60 == 0 ? datum.label : ''", "tickSize": {"condition": {"test": "(datum.value - 10) % 60 == 0", "value": -24}, "value": -10}, "labelFontSize": 28, "labelPadding": 36, "title": null}},
            "y": {"field": "v", "type": "quantitative", "scale": {"type": "log", "domain": [0.0071, 100], "nice": false},
              "axis": {"orient": "left", "values": [0.008,0.009,0.01,0.02,0.03,0.04,0.05,0.06,0.07,0.08,0.09,0.1,0.2,0.3,0.4,0.5,0.6,0.7,0.8,0.9,1,2,3,4,5,6,7,8,9,10,20,30,40,50,60,70,80,90,100],
                "labelExpr": "datum.value == 100 ? '10²' : datum.value == 10 ? '10¹' : datum.value == 1 ? '10⁰' : datum.value == 0.1 ? '10⁻¹' : datum.value == 0.01 ? '10⁻²' : ''",
                "tickSize": {"condition": {"test": "datum.value == 0.01 || datum.value == 0.1 || datum.value == 1 || datum.value == 10 || datum.value == 100", "value": -30}, "value": -8},
                "labelFontSize": 30, "labelPadding": 34, "title": "d²σ/dEdΩ (mb•MeV/sr)", "titleFontSize": 32, "titleX": -59, "titleY": 326}},
            "shape": {"field": "a", "type": "nominal", "scale": {"domain": ["30°", "90°", "150°"], "range": ["circle", "triangle-up", "square"]}, "legend": null},
            "fill": {"field": "m", "type": "nominal", "scale": {"domain": ["mL", "mH"], "range": ["white", "black"]}, "legend": null},
            "size": {"field": "a", "type": "nominal", "scale": {"domain": ["30°", "90°", "150°"], "range": [95, 150, 95]}, "legend": null}
          }
        },
        {
          "data": {"name": "txt"},
          "transform": [{"filter": "datum.p == 1 && datum.k == 'big'"}],
          "mark": {"type": "text", "align": "left", "baseline": "middle", "font": "Liberation Sans", "fontSize": 29, "color": "black"},
          "encoding": {
            "x": {"field": "E", "type": "quantitative", "scale": {"domain": [0, 216], "nice": false, "zero": false},
              "axis": {"orient": "top", "values": [10, 40, 70, 100, 130, 160, 190], "labels": false, "tickSize": {"condition": {"test": "(datum.value - 10) % 60 == 0", "value": -22}, "value": -10}, "title": null}},
            "y": {"field": "v", "type": "quantitative", "scale": {"type": "log", "domain": [0.0071, 100], "nice": false}, "axis": null},
            "text": {"field": "t"}
          }
        },
        {
          "data": {"name": "txt"},
          "transform": [{"filter": "datum.p == 1 && (datum.k == 'sub' || datum.k == 'sup')"}],
          "mark": {"type": "text", "align": "left", "baseline": "middle", "font": "Liberation Sans", "fontSize": 19, "color": "black"},
          "encoding": {
            "x": {"field": "E", "type": "quantitative", "scale": {"domain": [0, 216], "nice": false, "zero": false}, "axis": null},
            "y": {"field": "v", "type": "quantitative", "scale": {"type": "log", "domain": [0.0071, 100], "nice": false}, "axis": null},
            "text": {"field": "t"}
          }
        },
        {
          "data": {"name": "txt"},
          "transform": [{"filter": "datum.p == 1 && datum.k == 'brk'"}],
          "mark": {"type": "text", "align": "center", "baseline": "middle", "font": "DejaVu Sans", "fontSize": 22, "color": "black"},
          "encoding": {
            "x": {"field": "E", "type": "quantitative", "scale": {"domain": [0, 216], "nice": false, "zero": false}, "axis": null},
            "y": {"field": "v", "type": "quantitative", "scale": {"type": "log", "domain": [0.0071, 100], "nice": false}, "axis": null},
            "text": {"field": "t"}
          }
        },
        {
          "data": {"name": "lines"},
          "transform": [{"filter": "datum.p == 1"}],
          "mark": {"type": "line", "color": "black", "strokeWidth": 2},
          "encoding": {
            "x": {"field": "E", "type": "quantitative", "scale": {"domain": [0, 216], "nice": false, "zero": false}, "axis": null},
            "y": {"field": "v", "type": "quantitative", "scale": {"type": "log", "domain": [0.0071, 100], "nice": false}, "axis": null},
            "detail": {"field": "id"},
            "order": {"field": "o"}
          }
        },
        {
          "data": {"name": "heads"},
          "transform": [{"filter": "datum.p == 1"}],
          "mark": {"type": "point", "shape": "triangle-left", "filled": true, "color": "black", "opacity": 1, "size": 70},
          "encoding": {
            "x": {"field": "E", "type": "quantitative", "scale": {"domain": [0, 216], "nice": false, "zero": false}, "axis": null},
            "y": {"field": "v", "type": "quantitative", "scale": {"type": "log", "domain": [0.0071, 100], "nice": false}, "axis": null}
          }
        }
      ]
    },
    {
      "width": 358, "height": 704,
      "resolve": {"axis": {"x": "independent", "y": "independent"}},
      "layer": [
        {
          "data": {"name": "pts"},
          "transform": [{"filter": "datum.p == 2"}],
          "mark": {"type": "point", "filled": true, "stroke": "black", "strokeWidth": 1.8, "opacity": 1},
          "encoding": {
            "x": {"field": "E", "type": "quantitative", "scale": {"domain": [-16, 236], "nice": false, "zero": false},
              "axis": {"orient": "bottom", "values": [10, 40, 70, 100, 130, 160, 190], "labelExpr": "(datum.value - 10) % 60 == 0 ? datum.label : ''", "tickSize": {"condition": {"test": "(datum.value - 10) % 60 == 0", "value": -24}, "value": -10}, "labelFontSize": 28, "labelPadding": 36, "title": "E/MeV", "titleFontSize": 38, "titlePadding": -6, "titleX": 198}},
            "y": {"field": "v", "type": "quantitative", "scale": {"type": "log", "domain": [0.0071, 100], "nice": false}, "axis": null},
            "shape": {"field": "a", "type": "nominal", "scale": {"domain": ["30°", "90°", "150°"], "range": ["circle", "triangle-up", "square"]}, "legend": null},
            "fill": {"field": "m", "type": "nominal", "scale": {"domain": ["mL", "mH"], "range": ["white", "black"]}, "legend": null},
            "size": {"field": "a", "type": "nominal", "scale": {"domain": ["30°", "90°", "150°"], "range": [95, 150, 95]}, "legend": null}
          }
        },
        {
          "data": {"name": "txt"},
          "transform": [{"filter": "datum.p == 2 && datum.k == 'big'"}],
          "mark": {"type": "text", "align": "left", "baseline": "middle", "font": "Liberation Sans", "fontSize": 29, "color": "black"},
          "encoding": {
            "x": {"field": "E", "type": "quantitative", "scale": {"domain": [-16, 236], "nice": false, "zero": false},
              "axis": {"orient": "top", "values": [10, 40, 70, 100, 130, 160, 190], "labels": false, "tickSize": {"condition": {"test": "(datum.value - 10) % 60 == 0", "value": -22}, "value": -10}, "title": null}},
            "y": {"field": "v", "type": "quantitative", "scale": {"type": "log", "domain": [0.0071, 100], "nice": false}, "axis": null},
            "text": {"field": "t"}
          }
        },
        {
          "data": {"name": "txt"},
          "transform": [{"filter": "datum.p == 2 && (datum.k == 'sub' || datum.k == 'sup')"}],
          "mark": {"type": "text", "align": "left", "baseline": "middle", "font": "Liberation Sans", "fontSize": 19, "color": "black"},
          "encoding": {
            "x": {"field": "E", "type": "quantitative", "scale": {"domain": [-16, 236], "nice": false, "zero": false}, "axis": null},
            "y": {"field": "v", "type": "quantitative", "scale": {"type": "log", "domain": [0.0071, 100], "nice": false}, "axis": null},
            "text": {"field": "t"}
          }
        },
        {
          "data": {"name": "txt"},
          "transform": [{"filter": "datum.p == 2 && datum.k == 'brk'"}],
          "mark": {"type": "text", "align": "center", "baseline": "middle", "font": "DejaVu Sans", "fontSize": 22, "color": "black"},
          "encoding": {
            "x": {"field": "E", "type": "quantitative", "scale": {"domain": [-16, 236], "nice": false, "zero": false}, "axis": null},
            "y": {"field": "v", "type": "quantitative", "scale": {"type": "log", "domain": [0.0071, 100], "nice": false}, "axis": null},
            "text": {"field": "t"}
          }
        },
        {
          "data": {"name": "lines"},
          "transform": [{"filter": "datum.p == 2"}],
          "mark": {"type": "line", "color": "black", "strokeWidth": 2},
          "encoding": {
            "x": {"field": "E", "type": "quantitative", "scale": {"domain": [-16, 236], "nice": false, "zero": false}, "axis": null},
            "y": {"field": "v", "type": "quantitative", "scale": {"type": "log", "domain": [0.0071, 100], "nice": false}, "axis": null},
            "detail": {"field": "id"},
            "order": {"field": "o"}
          }
        },
        {
          "data": {"name": "heads"},
          "transform": [{"filter": "datum.p == 2"}],
          "mark": {"type": "point", "shape": "triangle-left", "filled": true, "color": "black", "opacity": 1, "size": 70},
          "encoding": {
            "x": {"field": "E", "type": "quantitative", "scale": {"domain": [-16, 236], "nice": false, "zero": false}, "axis": null},
            "y": {"field": "v", "type": "quantitative", "scale": {"type": "log", "domain": [0.0071, 100], "nice": false}, "axis": null}
          }
        }
      ]
    },
    {
      "width": 372, "height": 704,
      "resolve": {"axis": {"x": "independent", "y": "independent"}},
      "layer": [
        {
          "data": {"name": "pts"},
          "transform": [{"filter": "datum.p == 3"}],
          "mark": {"type": "point", "filled": true, "stroke": "black", "strokeWidth": 1.8, "opacity": 1},
          "encoding": {
            "x": {"field": "E", "type": "quantitative", "scale": {"domain": [-14, 248], "nice": false, "zero": false},
              "axis": {"orient": "bottom", "values": [10, 40, 70, 100, 130, 160, 190, 220], "labelExpr": "(datum.value - 10) % 60 == 0 ? datum.label : ''", "tickSize": {"condition": {"test": "(datum.value - 10) % 60 == 0", "value": -24}, "value": -10}, "labelFontSize": 28, "labelPadding": 36, "title": null}},
            "y": {"field": "v", "type": "quantitative", "scale": {"type": "log", "domain": [0.0071, 100], "nice": false},
              "axis": {"orient": "right", "values": [0.008,0.009,0.01,0.02,0.03,0.04,0.05,0.06,0.07,0.08,0.09,0.1,0.2,0.3,0.4,0.5,0.6,0.7,0.8,0.9,1,2,3,4,5,6,7,8,9,10,20,30,40,50,60,70,80,90,100], "labels": false,
                "tickSize": {"condition": {"test": "datum.value == 0.01 || datum.value == 0.1 || datum.value == 1 || datum.value == 10 || datum.value == 100", "value": -33}, "value": -8}, "title": null}},
            "shape": {"field": "a", "type": "nominal", "scale": {"domain": ["30°", "90°", "150°"], "range": ["circle", "triangle-up", "square"]}, "legend": null},
            "fill": {"field": "m", "type": "nominal", "scale": {"domain": ["mL", "mH"], "range": ["white", "black"]}, "legend": null},
            "size": {"field": "a", "type": "nominal", "scale": {"domain": ["30°", "90°", "150°"], "range": [95, 150, 95]}, "legend": null}
          }
        },
        {
          "data": {"name": "leg"},
          "mark": {"type": "point", "filled": true, "stroke": "black", "strokeWidth": 1.8, "opacity": 1, "size": 70},
          "encoding": {
            "x": {"field": "E", "type": "quantitative", "scale": {"domain": [-14, 248], "nice": false, "zero": false}, "axis": null},
            "y": {"field": "v", "type": "quantitative", "scale": {"type": "log", "domain": [0.0071, 100], "nice": false}, "axis": null},
            "shape": {"field": "a", "type": "nominal", "scale": {"domain": ["30°", "90°", "150°"], "range": ["circle", "triangle-up", "square"]}, "legend": null},
            "fill": {"field": "m", "type": "nominal", "scale": {"domain": ["mL", "mH"], "range": ["white", "black"]}, "legend": null}
          }
        },
        {
          "data": {"name": "txt"},
          "transform": [{"filter": "datum.p == 3 && datum.k == 'big'"}],
          "mark": {"type": "text", "align": "left", "baseline": "middle", "font": "Liberation Sans", "fontSize": 29, "color": "black"},
          "encoding": {
            "x": {"field": "E", "type": "quantitative", "scale": {"domain": [-14, 248], "nice": false, "zero": false},
              "axis": {"orient": "top", "values": [10, 40, 70, 100, 130, 160, 190, 220], "labels": false, "tickSize": {"condition": {"test": "(datum.value - 10) % 60 == 0", "value": -22}, "value": -10}, "title": null}},
            "y": {"field": "v", "type": "quantitative", "scale": {"type": "log", "domain": [0.0071, 100], "nice": false}, "axis": null},
            "text": {"field": "t"}
          }
        },
        {
          "data": {"name": "txt"},
          "transform": [{"filter": "datum.p == 3 && datum.k == 'leg'"}],
          "mark": {"type": "text", "align": "left", "baseline": "middle", "font": "Liberation Sans", "fontSize": 25, "color": "black"},
          "encoding": {
            "x": {"field": "E", "type": "quantitative", "scale": {"domain": [-14, 248], "nice": false, "zero": false}, "axis": null},
            "y": {"field": "v", "type": "quantitative", "scale": {"type": "log", "domain": [0.0071, 100], "nice": false}, "axis": null},
            "text": {"field": "t"}
          }
        },
        {
          "data": {"name": "txt"},
          "transform": [{"filter": "datum.p == 3 && (datum.k == 'sub' || datum.k == 'sup')"}],
          "mark": {"type": "text", "align": "left", "baseline": "middle", "font": "Liberation Sans", "fontSize": 19, "color": "black"},
          "encoding": {
            "x": {"field": "E", "type": "quantitative", "scale": {"domain": [-14, 248], "nice": false, "zero": false}, "axis": null},
            "y": {"field": "v", "type": "quantitative", "scale": {"type": "log", "domain": [0.0071, 100], "nice": false}, "axis": null},
            "text": {"field": "t"}
          }
        },
        {
          "data": {"name": "txt"},
          "transform": [{"filter": "datum.p == 3 && datum.k == 'brk'"}],
          "mark": {"type": "text", "align": "center", "baseline": "middle", "font": "DejaVu Sans", "fontSize": 22, "color": "black"},
          "encoding": {
            "x": {"field": "E", "type": "quantitative", "scale": {"domain": [-14, 248], "nice": false, "zero": false}, "axis": null},
            "y": {"field": "v", "type": "quantitative", "scale": {"type": "log", "domain": [0.0071, 100], "nice": false}, "axis": null},
            "text": {"field": "t"}
          }
        },
        {
          "data": {"name": "lines"},
          "transform": [{"filter": "datum.p == 3"}],
          "mark": {"type": "line", "color": "black", "strokeWidth": 2},
          "encoding": {
            "x": {"field": "E", "type": "quantitative", "scale": {"domain": [-14, 248], "nice": false, "zero": false}, "axis": null},
            "y": {"field": "v", "type": "quantitative", "scale": {"type": "log", "domain": [0.0071, 100], "nice": false}, "axis": null},
            "detail": {"field": "id"},
            "order": {"field": "o"}
          }
        },
        {
          "data": {"name": "dots"},
          "mark": {"type": "line", "color": "black", "strokeWidth": 2, "strokeDash": [2, 5]},
          "encoding": {
            "x": {"field": "E", "type": "quantitative", "scale": {"domain": [-14, 248], "nice": false, "zero": false}, "axis": null},
            "y": {"field": "v", "type": "quantitative", "scale": {"type": "log", "domain": [0.0071, 100], "nice": false}, "axis": null},
            "order": {"field": "o"}
          }
        },
        {
          "data": {"name": "heads"},
          "transform": [{"filter": "datum.g == 'DL'"}],
          "mark": {"type": "point", "shape": "triangle-up", "angle": 225, "filled": true, "color": "black", "opacity": 1, "size": 70},
          "encoding": {
            "x": {"field": "E", "type": "quantitative", "scale": {"domain": [-14, 248], "nice": false, "zero": false}, "axis": null},
            "y": {"field": "v", "type": "quantitative", "scale": {"type": "log", "domain": [0.0071, 100], "nice": false}, "axis": null}
          }
        },
        {
          "data": {"name": "heads"},
          "transform": [{"filter": "datum.g == 'UL'"}],
          "mark": {"type": "point", "shape": "triangle-up", "angle": 317, "filled": true, "color": "black", "opacity": 1, "size": 70},
          "encoding": {
            "x": {"field": "E", "type": "quantitative", "scale": {"domain": [-14, 248], "nice": false, "zero": false}, "axis": null},
            "y": {"field": "v", "type": "quantitative", "scale": {"type": "log", "domain": [0.0071, 100], "nice": false}, "axis": null}
          }
        }
      ]
    }
  ]
}
